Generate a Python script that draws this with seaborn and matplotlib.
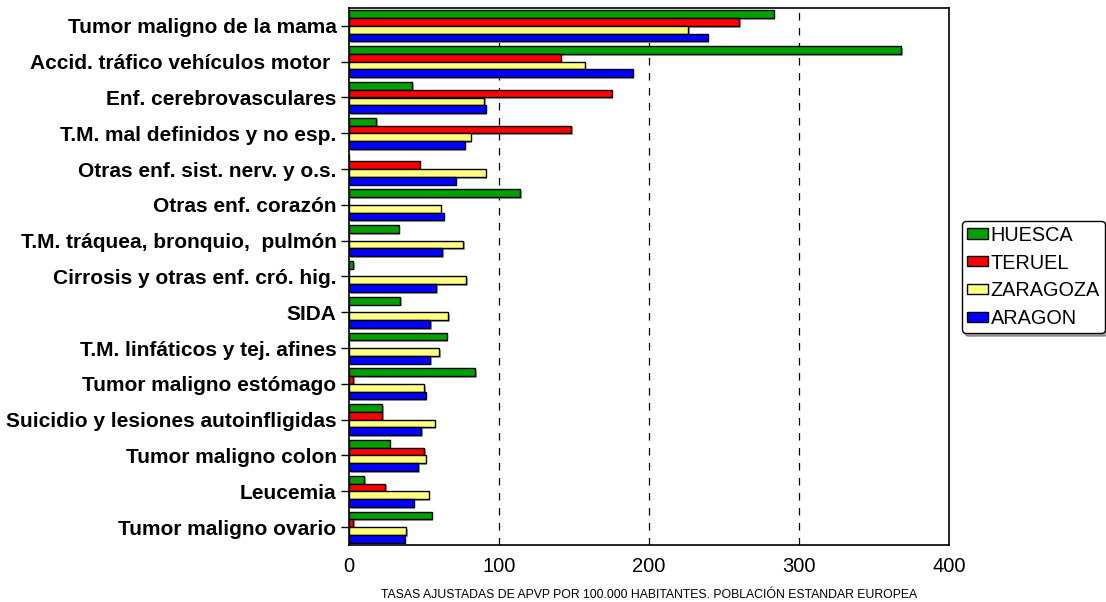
import pandas as pd
import matplotlib.pyplot as plt
import matplotlib.patheffects as pe
from matplotlib.patches import Patch
import seaborn as sns

causes = [
    'Tumor maligno de la mama',
    'Accid. tráfico vehículos motor ',
    'Enf. cerebrovasculares',
    'T.M. mal definidos y no esp.',
    'Otras enf. sist. nerv. y o.s.',
    'Otras enf. corazón',
    'T.M. tráquea, bronquio,  pulmón',
    'Cirrosis y otras enf. cró. hig.',
    'SIDA',
    'T.M. linfáticos y tej. afines',
    'Tumor maligno estómago',
    'Suicidio y lesiones autoinfligidas',
    'Tumor maligno colon',
    'Leucemia',
    'Tumor maligno ovario',
]
regions = ['HUESCA', 'TERUEL', 'ZARAGOZA', 'ARAGON']

huesca = [283, 368, 42, 18, 0, 114, 33, 2.6, 34, 65, 84, 22, 27, 10, 55]
teruel = [260, 141, 175, 148, 47, 0, 0, 0, 0, 0, 2.6, 22, 50, 24, 2.6]
zaragoza = [226, 157, 90, 81, 91, 61, 76, 78, 66, 60, 50, 57, 51, 53, 38]
aragon = [239, 189, 91, 77, 71, 63, 62, 58, 54, 54, 51, 48, 46, 43, 37]

colors = ['#00a000', '#ff0000', '#ffff80', '#0000ff']

df = pd.DataFrame({'causa': causes * 4,
                   'region': sum([[r] * len(causes) for r in regions], []),
                   'tasa': huesca + teruel + zaragoza + aragon})

sns.set_style('white')
plt.rcParams['font.family'] = ['Liberation Sans', 'DejaVu Sans']
plt.rcParams['text.color'] = 'black'
plt.rcParams['xtick.color'] = 'black'
plt.rcParams['ytick.color'] = 'black'
plt.rcParams['axes.labelcolor'] = 'black'

fig = plt.figure(figsize=(11.06, 6.02), dpi=100)
ax = fig.add_axes([349 / 1106, 1 - 545 / 602, 600 / 1106, 537 / 602])

sns.barplot(data=df, y='causa', x='tasa', hue='region', orient='h',
            palette=colors, saturation=1, edgecolor='black', linewidth=1.0, width=0.87,
            legend=False, ax=ax)
for bar in ax.patches:
    bar.set_path_effects([pe.SimplePatchShadow(offset=(1.2, -1.2), shadow_rgbFace='#808080', alpha=0.7),
                          pe.Normal()])

ax.set_xlim(0, 400)
ax.set_xticks([0, 100, 200, 300, 400])
for v in [100, 200, 300]:
    ax.axvline(v, color='black', linestyle=(0, (6, 6)), linewidth=0.9, zorder=0)

for s in ax.spines.values():
    s.set_color('black')
    s.set_linewidth(1.2)

ax.tick_params(axis='y', length=6, width=1, labelsize=15, pad=3, left=True)
ax.tick_params(axis='x', length=0, labelsize=14.5, pad=9)
for t in ax.get_yticklabels():
    t.set_fontweight('bold')
ax.set_ylabel('')
ax.set_xlabel('TASAS AJUSTADAS DE APVP POR 100.000 HABITANTES. POBLACIÓN ESTANDAR EUROPEA',
              fontsize=8.8, labelpad=9)

handles = [Patch(facecolor=c, edgecolor='black', linewidth=1) for c in colors]
fig.legend(handles, regions, loc='center left', bbox_to_anchor=(962 / 1106, 1 - 277 / 602),
           fontsize=14.3, frameon=True, fancybox=True, shadow=True, edgecolor='black',
           handlelength=1.05, handleheight=0.4, handletextpad=0.15, labelspacing=0.45,
           borderpad=0.25, borderaxespad=0.0)

fig.savefig('out.png', dpi=100)
